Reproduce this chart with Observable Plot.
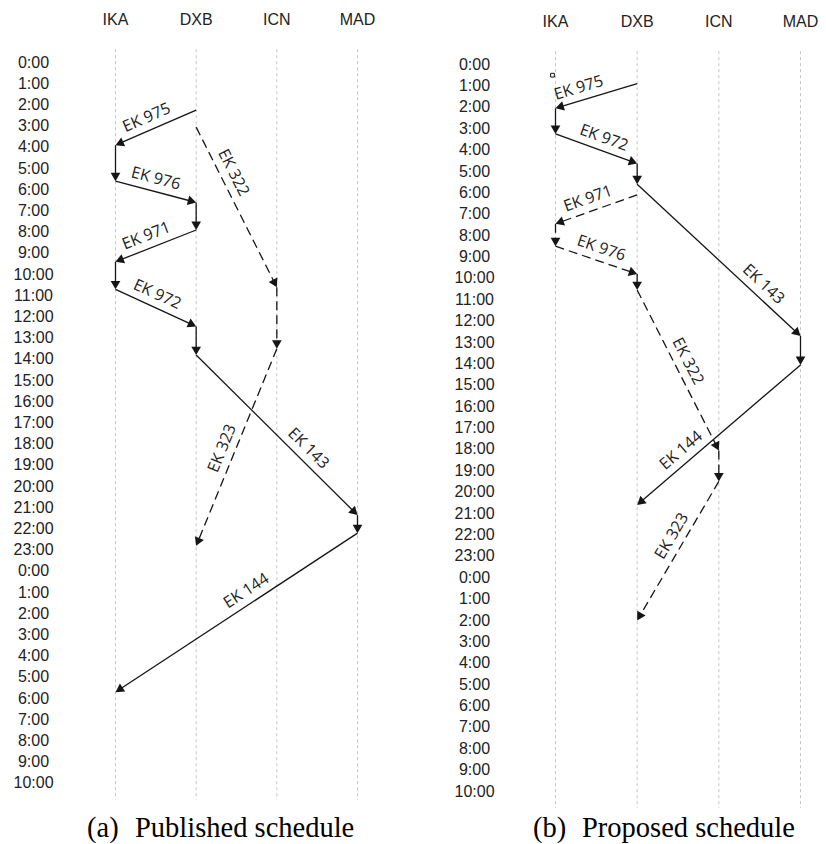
<!DOCTYPE html>
<html><head><meta charset="utf-8">
<script src="https://cdn.jsdelivr.net/npm/d3@7"></script>
<script src="https://cdn.jsdelivr.net/npm/@observablehq/plot@0.6"></script>
<style>
body{margin:0;background:#fff;}
#wrap{position:relative;width:826px;height:844px;overflow:hidden;background:#fff;}
.panel{position:absolute;top:0;}
.cap{position:absolute;font-family:"Liberation Serif","Times New Roman",serif;font-size:28.5px;line-height:1;white-space:nowrap;color:#000;}
</style></head><body><div id="wrap"></div>
<script>
// ---- data ----
const stations = ["IKA", "DXB", "ICN", "MAD"];
const hourTicks = d3.range(0, 35); // 0:00 day 1 ... 10:00 day 2

const publishedFlights = [
  {flight: "EK 975", from: "DXB", to: "IKA", dep: 2.25, arr: 3.9,  aircraft: 1},
  {flight: "EK 976", from: "IKA", to: "DXB", dep: 5.6,  arr: 6.6,  aircraft: 1},
  {flight: "EK 971", from: "DXB", to: "IKA", dep: 7.9,  arr: 9.4,  aircraft: 1},
  {flight: "EK 972", from: "IKA", to: "DXB", dep: 10.7, arr: 12.45, aircraft: 1},
  {flight: "EK 143", from: "DXB", to: "MAD", dep: 13.8, arr: 21.35, aircraft: 1},
  {flight: "EK 144", from: "MAD", to: "IKA", dep: 22.2, arr: 29.7, aircraft: 1},
  {flight: "EK 322", from: "DXB", to: "ICN", dep: 3.05, arr: 10.6, aircraft: 2},
  {flight: "EK 323", from: "ICN", to: "DXB", dep: 13.5, arr: 22.8, aircraft: 2}
];
const proposedFlights = [
  {flight: "EK 975", from: "DXB", to: "IKA", dep: 0.9,  arr: 2.05, aircraft: 1},
  {flight: "EK 972", from: "IKA", to: "DXB", dep: 3.25, arr: 4.63, aircraft: 1},
  {flight: "EK 143", from: "DXB", to: "MAD", dep: 5.6,  arr: 12.7, aircraft: 1},
  {flight: "EK 144", from: "MAD", to: "DXB", dep: 14.05, arr: 20.6, aircraft: 1},
  {flight: "EK 971", from: "DXB", to: "IKA", dep: 6.1,  arr: 7.45, aircraft: 2},
  {flight: "EK 976", from: "IKA", to: "DXB", dep: 8.5,  arr: 9.8,  aircraft: 2},
  {flight: "EK 322", from: "DXB", to: "ICN", dep: 10.55, arr: 18.05, aircraft: 2},
  {flight: "EK 323", from: "ICN", to: "DXB", dep: 19.5, arr: 26.0, aircraft: 2}
];
const proposedMarkers = [{station: "IKA", time: 0.5}];

// ---- drawing ----
const idx = s => stations.indexOf(s);

function groundLegs(flights) {
  const legs = [];
  for (const a of d3.union(flights.map(f => f.aircraft))) {
    const seq = flights.filter(f => f.aircraft === a).sort((p, q) => p.dep - q.dep);
    for (let i = 1; i < seq.length; i++) {
      legs.push({from: seq[i-1].to, to: seq[i-1].to, dep: seq[i-1].arr, arr: seq[i].dep, aircraft: a, kind: "ground"});
    }
  }
  return legs;
}

function panel(cfg) {
  const {flights, width, height, xRange, top, step, tickPad, markers, labelAt} = cfg;
  const yRange = [top, top + 34 * step];
  const xs = Plot.scale({x: {domain: [0, 3], range: xRange}});
  const ys = Plot.scale({y: {domain: [0, 34], range: yRange}});
  const segs = [...flights.map(f => ({...f, kind: "flight"})), ...groundLegs(flights)];
  const HEAD = 5.6, OFF = 13;
  const geo = segs.map(s => {
    const px1 = xs.apply(idx(s.from)), py1 = ys.apply(s.dep);
    const px2 = xs.apply(idx(s.to)), py2 = ys.apply(s.arr);
    const L = Math.hypot(px2 - px1, py2 - py1);
    const ux = (px2 - px1) / L, uy = (py2 - py1) / L;
    const cx = px2 - ux * HEAD, cy = py2 - uy * HEAD;
    return {...s, px1, py1, px2, py2,
      x1: idx(s.from), y1: s.dep, x2: xs.invert(cx), y2: ys.invert(cy),
      rot: Math.atan2(uy, ux) * 180 / Math.PI + 90};
  });
  const labels = geo.filter(g => g.kind === "flight").map(g => {
    let a = Math.atan2(g.py2 - g.py1, g.px2 - g.px1) * 180 / Math.PI;
    if (a > 90) a -= 180;
    if (a <= -90) a += 180;
    const r = a * Math.PI / 180;
    const t = labelAt[g.flight] ?? 0.5;
    const mx = g.px1 + (g.px2 - g.px1) * t + Math.sin(r) * OFF;
    const my = g.py1 + (g.py2 - g.py1) * t - Math.cos(r) * OFF;
    return {text: g.flight, x: xs.invert(mx), y: ys.invert(my), rotate: a};
  });
  const ink = "#151515";
  return Plot.plot({
    width, height,
    marginTop: top, marginBottom: height - yRange[1],
    marginLeft: xRange[0], marginRight: width - xRange[1],
    x: {domain: [0, 3], range: xRange},
    y: {domain: [0, 34], range: yRange},
    style: {fontFamily: "'Liberation Sans', Arial, sans-serif", background: "white", color: "#222"},
    marks: [
      Plot.ruleX([0, 1, 2, 3], {x: d => d, y1: -0.6, y2: 34.8, stroke: "#c4c4c4", strokeDasharray: "3,3", strokeWidth: 1}),
      Plot.axisX([0, 1, 2, 3], {anchor: "top", tickSize: 0, tickPadding: 38, label: null, tickFormat: i => stations[i], fontSize: 16}),
      Plot.axisY(hourTicks, {anchor: "left", tickSize: 0, tickPadding: tickPad, textAnchor: "middle", label: null, tickFormat: d => `${d % 24}:00`, fontSize: 16}),
      Plot.link(geo.filter(g => g.aircraft === 1), {x1: "x1", y1: "y1", x2: "x2", y2: "y2", stroke: ink, strokeWidth: 1.3}),
      Plot.link(geo.filter(g => g.aircraft === 2), {x1: "x1", y1: "y1", x2: "x2", y2: "y2", stroke: ink, strokeWidth: 1.3, strokeDasharray: "9,5"}),
      Plot.dot(geo, {x: "x2", y: "y2", symbol: "triangle", r: 3.6, fill: ink, stroke: "none", rotate: "rot"}),
      Plot.text(labels, {x: "x", y: "y", text: "text", rotate: "rotate", fontSize: 16, fontFamily: "'Open Sans', sans-serif", fill: "#222"}),
      markers ? Plot.dot(markers, {x: d => idx(d.station), y: "time", symbol: "square", r: 2.1, stroke: ink, strokeWidth: 1, fill: "white", dx: -3}) : null
    ]
  });
}

const wrap = document.getElementById("wrap");
const left = document.createElement("div");
left.className = "panel"; left.style.left = "0px";
left.appendChild(panel({flights: publishedFlights, width: 413, height: 805, xRange: [115, 357], top: 62, step: 21.2, tickPad: 82,
  labelAt: {"EK 975": 0.55, "EK 976": 0.46, "EK 971": 0.56, "EK 972": 0.45, "EK 322": 0.32, "EK 143": 0.64, "EK 323": 0.53, "EK 144": 0.43}}));
wrap.appendChild(left);
const right = document.createElement("div");
right.className = "panel"; right.style.left = "413px";
right.appendChild(panel({flights: proposedFlights, width: 413, height: 810, xRange: [142, 387], top: 64, step: 21.38, tickPad: 81, markers: proposedMarkers,
  labelAt: {"EK 975": 0.67, "EK 972": 0.54, "EK 971": 0.55, "EK 976": 0.51, "EK 143": 0.72, "EK 322": 0.48, "EK 144": 0.68, "EK 323": 0.44}}));
wrap.appendChild(right);

function caption(tag, text, x1, x2) {
  const a = document.createElement("div");
  a.className = "cap"; a.textContent = tag; a.style.left = x1 + "px"; a.style.top = "814px";
  const b = document.createElement("div");
  b.className = "cap"; b.textContent = text; b.style.left = x2 + "px"; b.style.top = "814px";
  wrap.appendChild(a); wrap.appendChild(b);
}
caption("(a)", "Published schedule", 87, 135);
caption("(b)", "Proposed schedule", 533, 582);
</script>
</body></html>
